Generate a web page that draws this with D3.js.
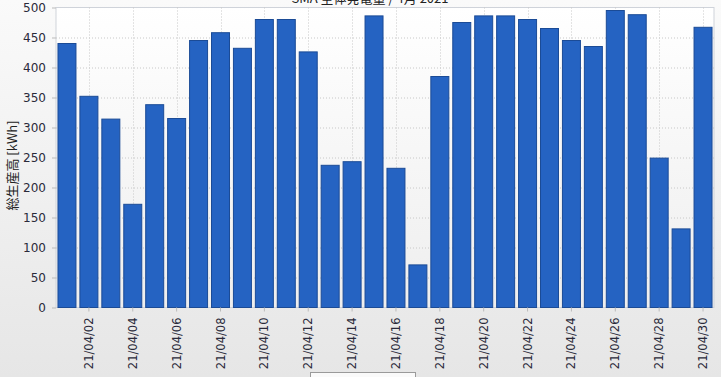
<!DOCTYPE html>
<html>
<head>
<meta charset="utf-8">
<script src="https://cdn.jsdelivr.net/npm/d3@7"></script>
<style>
  body { margin: 0; background: #ececec; }
  svg { display: block; }
</style>
</head>
<body>
<div id="chart"></div>
<script>
// days of April 2021
let days = ["21/04/01","21/04/02","21/04/03","21/04/04","21/04/05","21/04/06","21/04/07","21/04/08","21/04/09","21/04/10",
            "21/04/11","21/04/12","21/04/13","21/04/14","21/04/15","21/04/16","21/04/17","21/04/18","21/04/19","21/04/20",
            "21/04/21","21/04/22","21/04/23","21/04/24","21/04/25","21/04/26","21/04/27","21/04/28","21/04/29","21/04/30"]
let energy = [440, 352, 314, 172, 338, 315, 445, 458, 432, 480,
              480, 426, 237, 243, 486, 232, 71, 385, 475, 486,
              486, 480, 465, 445, 435, 495, 488, 249, 131, 467]
let yTicks = [0, 50, 100, 150, 200, 250, 300, 350, 400, 450, 500]
let labelDays = days.filter((d, i) => i % 2 == 1)

let width = 721, height = 377
let margin = {top: 7.5, right: 7, bottom: 69.5, left: 56}
let w = width - margin.left - margin.right
let h = height - margin.top - margin.bottom

let svg = d3.select('#chart').append('svg')
    .attr('width', width)
    .attr('height', height)

let defs = svg.append('defs')
let bg = defs.append('linearGradient').attr('id', 'bg').attr('x1', 0).attr('y1', 0).attr('x2', 0).attr('y2', 1)
bg.append('stop').attr('offset', '0%').attr('stop-color', '#fafafa')
bg.append('stop').attr('offset', '100%').attr('stop-color', '#e6e6e6')
let pg = defs.append('linearGradient').attr('id', 'pg').attr('x1', 0).attr('y1', 0).attr('x2', 0).attr('y2', 1)
pg.append('stop').attr('offset', '0%').attr('stop-color', '#ffffff')
pg.append('stop').attr('offset', '100%').attr('stop-color', '#eeeeee')

svg.append('rect').attr('width', width).attr('height', height).attr('fill', 'url(#bg)')

// title (cut off at the top edge, as in the original)
svg.append('text')
    .attr('x', 370).attr('y', 3)
    .attr('text-anchor', 'middle')
    .style('font-family', '"Noto Sans CJK JP", "DejaVu Sans", sans-serif')
    .style('font-size', '13px')
    .attr('fill', '#222')
    .text('SMA 全体発電量 / 4月 2021')

let g = svg.append('g').attr('transform', 'translate(' + margin.left + ',' + margin.top + ')')

let x = d3.scaleBand().domain(days).range([0, w]).paddingInner(0.18).paddingOuter(0.09)
let y = d3.scaleLinear().domain([0, 500]).range([h, 0])

g.append('rect').attr('width', w).attr('height', h).attr('fill', 'url(#pg)')
    .attr('stroke', '#cfd3da').attr('stroke-width', 1)

// grid
g.append('g').selectAll('line.hg')
    .data(yTicks.filter(t => t > 0 && t < 500))
    .enter().append('line')
    .attr('x1', 0).attr('x2', w)
    .attr('y1', d => Math.round(y(d)) + 0.5).attr('y2', d => Math.round(y(d)) + 0.5)
    .attr('stroke', '#c8c8c8').attr('stroke-dasharray', '1,2')
g.append('g').selectAll('line.vg')
    .data(labelDays)
    .enter().append('line')
    .attr('x1', d => Math.round(x(d) + x.bandwidth() / 2) + 0.5)
    .attr('x2', d => Math.round(x(d) + x.bandwidth() / 2) + 0.5)
    .attr('y1', 0).attr('y2', h)
    .attr('stroke', '#c8c8c8').attr('stroke-dasharray', '1,2')

// bars
g.selectAll('rect.bar')
    .data(energy)
    .enter().append('rect')
    .attr('class', 'bar')
    .attr('x', (d, i) => x(days[i]))
    .attr('y', d => y(d))
    .attr('width', x.bandwidth())
    .attr('height', d => h - y(d))
    .attr('fill', '#2563c2')
    .attr('stroke', '#1b4b96')
    .attr('stroke-width', 1)

// y axis
let yAxis = g.append('g')
    .call(d3.axisLeft(y).tickValues(yTicks).tickSize(4).tickPadding(6))
yAxis.select('.domain').remove()
yAxis.selectAll('line').attr('stroke', '#bbbbbb')
yAxis.selectAll('text')
    .style('font-family', '"DejaVu Sans", sans-serif')
    .style('font-size', '12px')
    .attr('fill', '#2a2a3a')

// x axis
let xAxis = g.append('g')
    .attr('transform', 'translate(0,' + h + ')')
    .call(d3.axisBottom(x).tickValues(labelDays).tickSize(4).tickPadding(6))
xAxis.select('.domain').remove()
xAxis.selectAll('line').attr('stroke', '#bbbbbb')
xAxis.selectAll('text')
    .style('font-family', '"DejaVu Sans", sans-serif')
    .style('font-size', '11.5px')
    .attr('fill', '#2a2a3a')
    .attr('transform', 'rotate(-90)')
    .attr('text-anchor', 'end')
    .attr('x', -10)
    .attr('y', 0)
    .attr('dy', '0.35em')

// y label
svg.append('text')
    .attr('transform', 'translate(17,' + (margin.top + h / 2 + 8) + ') rotate(-90)')
    .attr('text-anchor', 'middle')
    .style('font-family', '"Noto Sans CJK JP", sans-serif')
    .style('font-size', '13px')
    .attr('fill', '#222')
    .text('総生産高 [kWh]')

// box at the bottom edge (cut off)
svg.append('rect')
    .attr('x', 310.5).attr('y', 372.5).attr('width', 105).attr('height', 10)
    .attr('fill', '#fafafa').attr('stroke', '#9a9a9a')
</script>
</body>
</html>
